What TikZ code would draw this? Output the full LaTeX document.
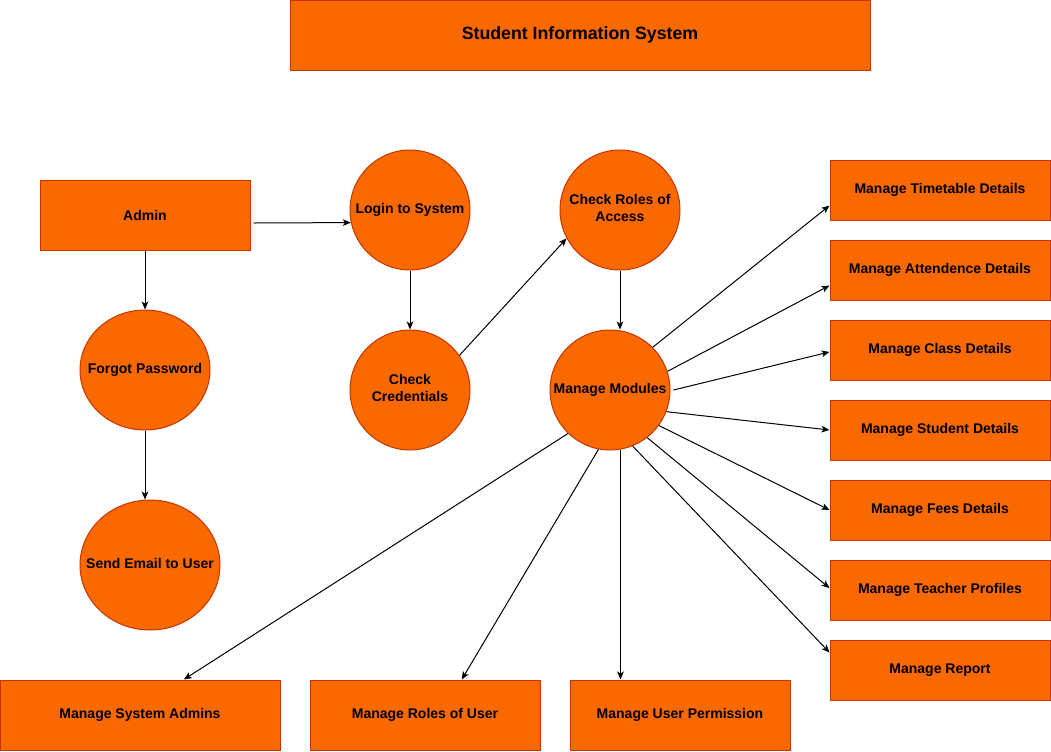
\documentclass[tikz,border=0pt]{standalone}
\usepackage{fontspec}
\setmainfont{Liberation Sans}
\usetikzlibrary{shapes.geometric,arrows.meta,calc}
\definecolor{fillor}{HTML}{FA6800}
\definecolor{strokeor}{HTML}{C73500}
\newcommand{\ctext}[1]{\makebox[0pt]{\begin{tabular}{@{}c@{}}#1\end{tabular}}}
\begin{document}
\begin{tikzpicture}[x=0.75pt,y=-0.75pt,
  rbox/.style={draw=strokeor,fill=fillor,line width=0.75pt,rectangle,inner sep=0pt,font=\bfseries\fontsize{10.5}{12.75}\selectfont,align=center},
  cnode/.style={draw=strokeor,fill=fillor,line width=0.75pt,ellipse,inner sep=0pt,font=\bfseries\fontsize{10.5}{12.75}\selectfont},
  arr/.style={draw=black,line width=0.75pt,-{Stealth[length=6pt,width=5pt,inset=1.6pt]}}]
\useasboundingbox (0,0) rectangle (1051,751);
% title
\node[rbox,minimum width=435pt,minimum height=52.5pt,font=\bfseries\fontsize{13.3}{16}\selectfont] (title) at (580,35) {Student Information System};
% left column
\node[rbox,minimum width=157.5pt,minimum height=52.5pt] (ad) at (145,215) {Admin};
\node[cnode,minimum width=97.5pt,minimum height=90pt] (fp) at (145,370) {\ctext{Forgot Password}};
\node[cnode,minimum width=105pt,minimum height=97.5pt] (se) at (150,565) {\ctext{Send Email to User}};
% circles
\node[cnode,minimum width=90pt,minimum height=90pt] (lg) at (410,210) {\ctext{Login to System}};
\node[cnode,minimum width=90pt,minimum height=90pt] (cc) at (410,390) {\ctext{Check\\Credentials}};
\node[cnode,minimum width=90pt,minimum height=90pt] (cr) at (620,210) {\ctext{Check Roles of\\Access}};
\node[cnode,minimum width=90pt,minimum height=90pt] (mm) at (610,390) {\ctext{Manage Modules}};
% right boxes
\node[rbox,minimum width=165pt,minimum height=45pt] (tt) at (940,190) {Manage Timetable Details};
\node[rbox,minimum width=165pt,minimum height=45pt] (at) at (940,270) {Manage Attendence Details};
\node[rbox,minimum width=165pt,minimum height=45pt] (cl) at (940,350) {Manage Class Details};
\node[rbox,minimum width=165pt,minimum height=45pt] (st) at (940,430) {Manage Student Details};
\node[rbox,minimum width=165pt,minimum height=45pt] (fe) at (940,510) {Manage Fees Details};
\node[rbox,minimum width=165pt,minimum height=45pt] (te) at (940,590) {Manage Teacher Profiles};
\node[rbox,minimum width=165pt,minimum height=45pt] (re) at (940,670) {Manage Report};
% bottom boxes
\node[rbox,minimum width=210pt,minimum height=52.5pt] (sa) at (140,715) {Manage System Admins};
\node[rbox,minimum width=172.5pt,minimum height=52.5pt] (ru) at (425,715) {Manage Roles of User};
\node[rbox,minimum width=165pt,minimum height=52.5pt] (up) at (680,715) {Manage User Permission};
% connectors
\draw[arr] ($(ad.east)+(3,8)$) -- (lg.192.5);
\draw[arr] (ad.south) -- (fp.north);
\draw[arr] (fp.south) -- (fp.south |- se.north);
\draw[arr] (lg.south) -- (cc.north);
\draw[arr] (cc.35.5) -- (cr.208.3);
\draw[arr] (cr.south) -- (cr.south |- mm.north);
\draw[arr] (mm.45) -- (tt.188.3);
\draw[arr] (mm.18) -- (at.188.8);
\draw[arr] ($(mm.east)+(3,0)$) -- (cl.181);
\draw[arr] (mm.-21) -- (st.west);
\draw[arr] (mm.-36) -- (fe.west);
\draw[arr] (mm.-52) -- (te.179);
\draw[arr] (mm.-68) -- (re.171.2);
\draw[arr] (mm.-134) -- (sa.39.3);
\draw[arr] (mm.-101) -- (ru.44);
\draw[arr] (mm.-80.4) -- (mm.-80.4 |- up.north);
\end{tikzpicture}
\end{document}
